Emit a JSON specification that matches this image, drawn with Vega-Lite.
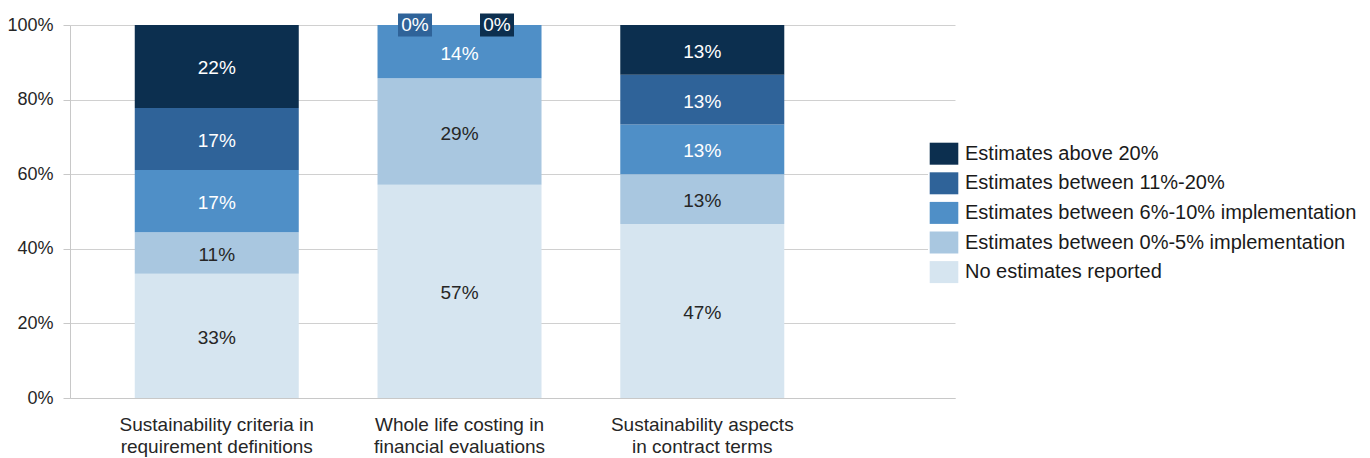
{
  "$schema": "https://vega.github.io/schema/vega-lite/v6.json",
  "width": 885,
  "height": 373,
  "autosize": {"type": "none"},
  "padding": {"left": 70, "top": 25, "right": 415, "bottom": 60},
  "background": "white",
  "config": {
    "view": {"stroke": null},
    "font": "Liberation Sans",
    "axis": {"labelFont": "Liberation Sans", "titleFont": "Liberation Sans"},
    "axisY": {
      "format": ".0%",
      "labelFontSize": 18,
      "labelColor": "#262626",
      "labelPadding": 10,
      "tickSize": 7,
      "tickColor": "#c8c8c8",
      "domainColor": "#c8c8c8",
      "gridColor": "#d0d0d0",
      "grid": true
    },
    "axisX": {
      "labelAngle": 0,
      "labelFontSize": 19,
      "labelColor": "#262626",
      "labelLineHeight": 22,
      "labelBaseline": "top",
      "labelPadding": 17,
      "labelLimit": 400,
      "ticks": false,
      "tickSize": 0,
      "domainColor": "#c8c8c8",
      "grid": false
    }
  },
  "data": {
    "values": [
      {"category": "Sustainability criteria in|requirement definitions", "series": "No estimates reported", "rank": 1, "value": 0.3333},
      {"category": "Sustainability criteria in|requirement definitions", "series": "Estimates between 0%-5% implementation", "rank": 2, "value": 0.1111},
      {"category": "Sustainability criteria in|requirement definitions", "series": "Estimates between 6%-10% implementation", "rank": 3, "value": 0.1667},
      {"category": "Sustainability criteria in|requirement definitions", "series": "Estimates between 11%-20%", "rank": 4, "value": 0.1667},
      {"category": "Sustainability criteria in|requirement definitions", "series": "Estimates above 20%", "rank": 5, "value": 0.2222},
      {"category": "Whole life costing in|financial evaluations", "series": "No estimates reported", "rank": 1, "value": 0.5714},
      {"category": "Whole life costing in|financial evaluations", "series": "Estimates between 0%-5% implementation", "rank": 2, "value": 0.2857},
      {"category": "Whole life costing in|financial evaluations", "series": "Estimates between 6%-10% implementation", "rank": 3, "value": 0.1429},
      {"category": "Whole life costing in|financial evaluations", "series": "Estimates between 11%-20%", "rank": 4, "value": 0},
      {"category": "Whole life costing in|financial evaluations", "series": "Estimates above 20%", "rank": 5, "value": 0},
      {"category": "Sustainability aspects|in contract terms", "series": "No estimates reported", "rank": 1, "value": 0.4667},
      {"category": "Sustainability aspects|in contract terms", "series": "Estimates between 0%-5% implementation", "rank": 2, "value": 0.1333},
      {"category": "Sustainability aspects|in contract terms", "series": "Estimates between 6%-10% implementation", "rank": 3, "value": 0.1333},
      {"category": "Sustainability aspects|in contract terms", "series": "Estimates between 11%-20%", "rank": 4, "value": 0.1333},
      {"category": "Sustainability aspects|in contract terms", "series": "Estimates above 20%", "rank": 5, "value": 0.1334}
    ]
  },
  "encoding": {
    "x": {
      "field": "category",
      "type": "nominal",
      "sort": null,
      "scale": {"paddingInner": 0.3244, "paddingOuter": 0.485, "align": 0.275, "round": false},
      "axis": {"title": null, "labelExpr": "split(datum.value, '|')"}
    }
  },
  "layer": [
    {
      "mark": {"type": "bar", "opacity": 1},
      "encoding": {
        "y": {
          "field": "value",
          "type": "quantitative",
          "stack": "zero",
          "scale": {"domain": [0, 1], "nice": false},
          "axis": {"title": null, "values": [0, 0.2, 0.4, 0.6, 0.8, 1]}
        },
        "order": {"field": "rank", "type": "quantitative", "sort": "ascending"},
        "color": {
          "field": "series",
          "type": "nominal",
          "scale": {
            "domain": ["Estimates above 20%", "Estimates between 11%-20%", "Estimates between 6%-10% implementation", "Estimates between 0%-5% implementation", "No estimates reported"],
            "range": ["#0c2f4f", "#2f6399", "#4f8fc7", "#a9c7e0", "#d6e5f0"]
          },
          "legend": {
            "title": null,
            "orient": "none",
            "legendX": 858,
            "legendY": 112.7,
            "symbolType": "M-1.3,-1H1.3V1H-1.3Z",
            "symbolSize": 484,
            "symbolStrokeWidth": 0,
            "symbolOpacity": 1,
            "labelFontSize": 20,
            "labelFont": "Liberation Sans",
            "labelColor": "#1a1a1a",
            "labelLimit": 500,
            "labelOffset": 10,
            "rowPadding": 7.6,
            "fillColor": "white",
            "padding": 5
          }
        }
      }
    },
    {
      "transform": [
        {"stack": "value", "groupby": ["category"], "sort": [{"field": "rank", "order": "ascending"}], "as": ["y0", "y1"]},
        {"filter": "datum.value > 0.001"},
        {"calculate": "(datum.y0 + datum.y1) / 2", "as": "mid"}
      ],
      "mark": {"type": "text", "fontSize": 19, "baseline": "middle", "align": "center", "dy": 2},
      "encoding": {
        "y": {"field": "mid", "type": "quantitative", "stack": null, "axis": {"title": null, "values": [0, 0.2, 0.4, 0.6, 0.8, 1]}},
        "text": {"field": "value", "type": "quantitative", "format": ".0%"},
        "color": {"condition": {"test": "datum.rank <= 2", "value": "#262626"}, "value": "#ffffff"}
      }
    },
    {
      "transform": [
        {"stack": "value", "groupby": ["category"], "sort": [{"field": "rank", "order": "ascending"}], "as": ["y0", "y1"]},
        {"filter": "datum.value < 0.001 && datum.rank == 4"}
      ],
      "mark": {"type": "point", "filled": true, "opacity": 1, "strokeWidth": 0, "size": 529, "shape": "M-5.348,-1H-2.392V1H-5.348Z"},
      "encoding": {
        "y": {"field": "y1", "type": "quantitative", "stack": null, "axis": {"title": null, "values": [0, 0.2, 0.4, 0.6, 0.8, 1]}},
        "color": {"field": "series", "type": "nominal"}
      }
    },
    {
      "transform": [
        {"stack": "value", "groupby": ["category"], "sort": [{"field": "rank", "order": "ascending"}], "as": ["y0", "y1"]},
        {"filter": "datum.value < 0.001 && datum.rank == 5"}
      ],
      "mark": {"type": "point", "filled": true, "opacity": 1, "strokeWidth": 0, "size": 529, "shape": "M1.782,-1H4.738V1H1.782Z"},
      "encoding": {
        "y": {"field": "y1", "type": "quantitative", "stack": null, "axis": {"title": null, "values": [0, 0.2, 0.4, 0.6, 0.8, 1]}},
        "color": {"field": "series", "type": "nominal"}
      }
    },
    {
      "transform": [
        {"stack": "value", "groupby": ["category"], "sort": [{"field": "rank", "order": "ascending"}], "as": ["y0", "y1"]},
        {"filter": "datum.value < 0.001 && datum.rank == 4"}
      ],
      "mark": {"type": "text", "fontSize": 19, "baseline": "middle", "align": "center", "dx": -44.5, "color": "#ffffff"},
      "encoding": {
        "y": {"field": "y1", "type": "quantitative", "stack": null, "axis": {"title": null, "values": [0, 0.2, 0.4, 0.6, 0.8, 1]}},
        "text": {"field": "value", "type": "quantitative", "format": ".0%"}
      }
    },
    {
      "transform": [
        {"stack": "value", "groupby": ["category"], "sort": [{"field": "rank", "order": "ascending"}], "as": ["y0", "y1"]},
        {"filter": "datum.value < 0.001 && datum.rank == 5"}
      ],
      "mark": {"type": "text", "fontSize": 19, "baseline": "middle", "align": "center", "dx": 37.5, "color": "#ffffff"},
      "encoding": {
        "y": {"field": "y1", "type": "quantitative", "stack": null, "axis": {"title": null, "values": [0, 0.2, 0.4, 0.6, 0.8, 1]}},
        "text": {"field": "value", "type": "quantitative", "format": ".0%"}
      }
    }
  ]
}
